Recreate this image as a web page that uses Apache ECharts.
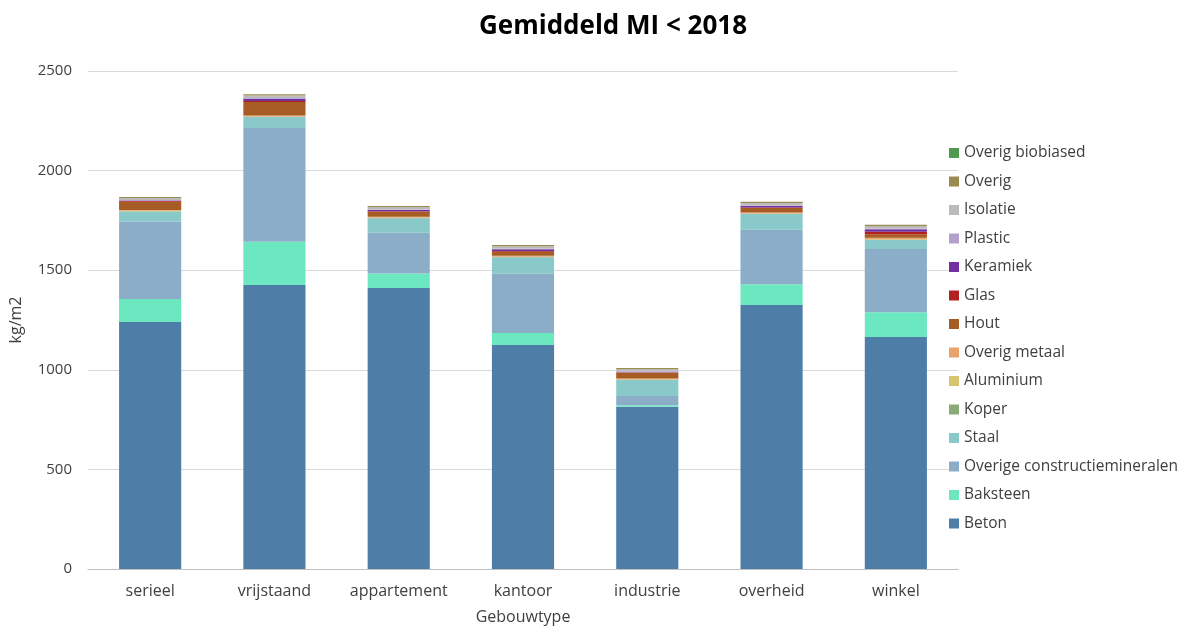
<!DOCTYPE html>
<html><head><meta charset="utf-8">
<script src="https://cdn.jsdelivr.net/npm/echarts@6/dist/echarts.min.js"></script>
<style>html,body{margin:0;padding:0;background:#fff}#c{width:1179px;height:628px}</style>
</head><body><div id="c"></div>
<script>
const categories = ['serieel','vrijstaand','appartement','kantoor','industrie','overheid','winkel'];
const seriesNames = ['Beton','Baksteen','Overige constructiemineralen','Staal','Koper','Aluminium','Overig metaal','Hout','Glas','Keramiek','Plastic','Isolatie','Overig','Overig biobiased'];
const colors = ['#4e7ea8','#6ce8c0','#8cadc8','#89c9c9','#8aaa78','#d8c46e','#e8a26c','#a65c22','#b22020','#7030a0','#b4a0cc','#bbbbbb','#9a8c50','#4f9a50'];
const beton = [1240,1426,1411,1124,815,1325,1165];
const baksteen = [115,217,72,61,7,104,124];
const overigeMin = [390,571,205,297,47,274,317];
const staal = [50,55,73,83,80,79,46];
const koper = [1,1,1,1,1,1,1];
const aluminium = [2,2,2,2,2,2,2];
const overigMetaal = [4,5,4,4,4,5,8];
const hout = [42,68,25,20,28,22,17];
const glas = [4,4,3,4,2,3,13];
const keramiek = [2,12,6,9,2,7,12];
const plastic = [3,4,3,3,5,3,4];
const isolatie = [10,12,12,12,10,12,13];
const overig = [5,6,5,6,6,6,6];
const biobiased = [0,0,0,0,0,0,0];
const yTicks = [0,500,1000,1500,2000,2500];

const values = [beton,baksteen,overigeMin,staal,koper,aluminium,overigMetaal,hout,glas,keramiek,plastic,isolatie,overig,biobiased];
const font = '"Open Sans", Lato, sans-serif';
const chart = echarts.init(document.getElementById('c'));
chart.setOption({
  animation:false,
  title:{text:'Gemiddeld MI < 2018',left:608,top:9,textAlign:'center',textStyle:{fontFamily:font,fontSize:26,fontWeight:'bold',color:'#000'}},
  grid:{left:88,right:221,top:71,bottom:59,outerBoundsMode:'none'},
  legend:{orient:'vertical',left:944,top:140,itemWidth:10,itemHeight:10,itemGap:12.5,icon:'rect',
    data:seriesNames.slice().reverse(),textStyle:{fontFamily:font,fontSize:15.5,color:'#404040'}},
  xAxis:{type:'category',data:categories,name:'Gebouwtype',nameLocation:'middle',nameGap:40,
    nameTextStyle:{fontFamily:font,fontSize:16,color:'#404040'},
    axisLine:{lineStyle:{color:'#bfbfbf'}},axisTick:{show:false},
    axisLabel:{interval:0,fontFamily:font,fontSize:16,color:'#404040',margin:14}},
  yAxis:{type:'value',min:yTicks[0],max:yTicks[yTicks.length-1],interval:500,name:'kg/m2',nameLocation:'middle',nameGap:64,
    nameTextStyle:{fontFamily:font,fontSize:16,color:'#404040'},
    axisLine:{show:false},axisTick:{show:false},
    axisLabel:{fontFamily:font,fontSize:15,color:'#404040',margin:16,formatter:v=>String(v)},
    splitLine:{lineStyle:{color:'#d9d9d9'}}},
  series:seriesNames.map((n,i)=>({name:n,type:'bar',stack:'a',barWidth:'50%',data:values[i],
    itemStyle:{color:colors[i]}}))
});
</script></body></html>
